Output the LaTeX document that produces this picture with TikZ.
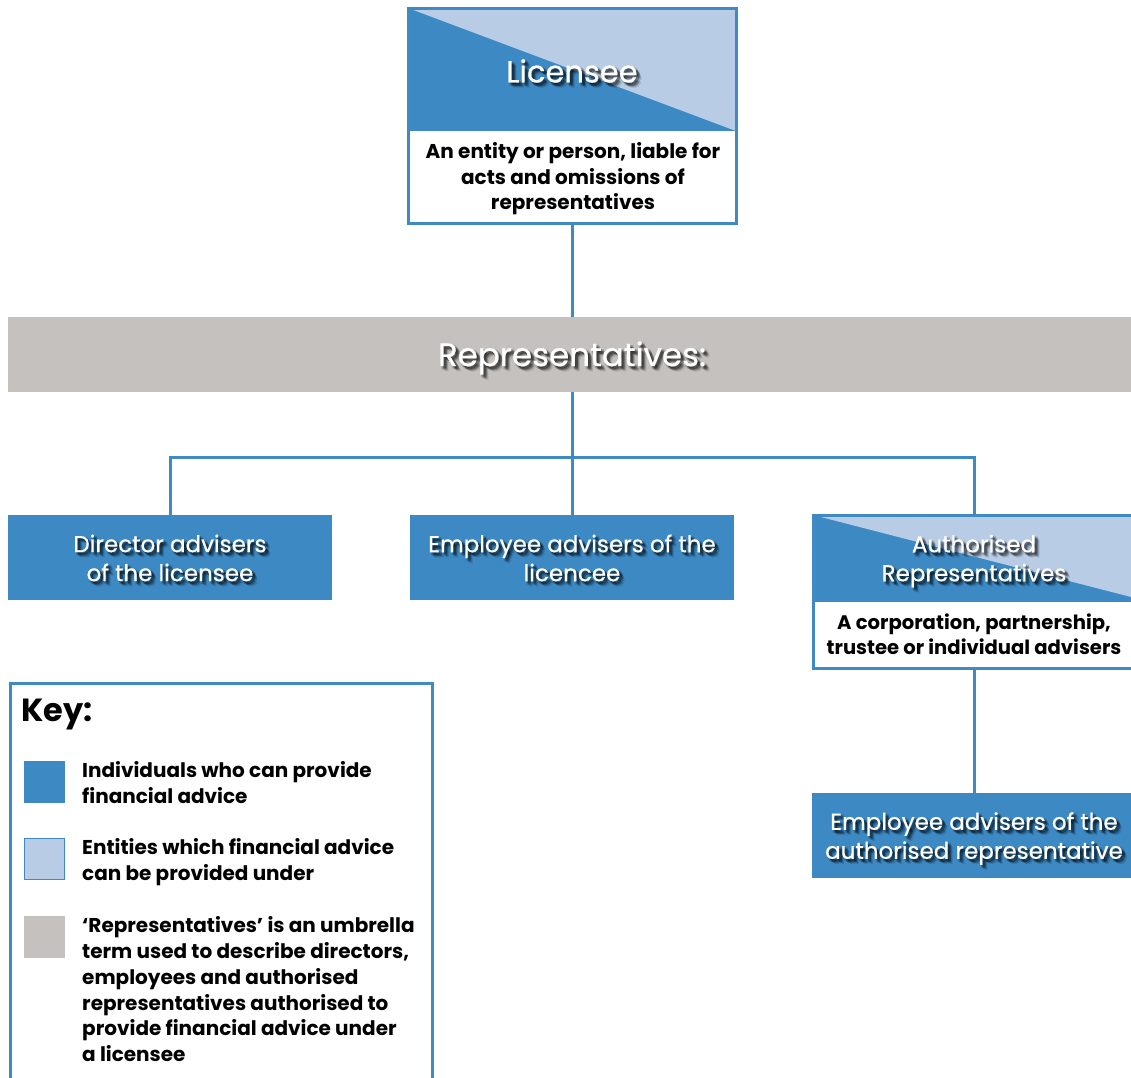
\documentclass[tikz,border=0pt]{standalone}
\usepackage{fontspec}
\setmainfont{Poppins}
\newfontfamily\wfont[FakeBold=0.6]{Poppins}
\definecolor{dblue}{HTML}{3D89C3}
\definecolor{lblue}{HTML}{B8CCE5}
\definecolor{lgray}{HTML}{C5C1BE}
\definecolor{bblue}{HTML}{3F8AC5}
\tikzset{
  conn/.style={draw=bblue, line width=3pt},
  frame/.style={inner sep=0pt, outer sep=0pt, draw=none},
  dtext/.style={align=center, inner sep=0pt, text=black, font=\bfseries\fontsize{20}{25.5}\selectfont},
  ktext/.style={align=left, inner sep=0pt, anchor=north west, text=black, font=\bfseries\fontsize{20}{25.8}\selectfont},
  wbig/.style={align=center, inner sep=0pt, font=\wfont\fontsize{23}{29}\selectfont},
  swatch/.style={inner sep=0pt, outer sep=0pt, minimum width=41pt, minimum height=42pt}
}
\newcommand{\slabel}[5]{%
  \foreach \dx/\dy in {1/1,2/2,3/3,2/3,3/2,4/4,3/4,4/3,5/5,1/3,3/1}{%
    \node[#4, text=black, text opacity=0.1] at ({#2+\dx},{#3+\dy}) {#5};}
  \node[#4, text=white] (#1) at (#2,#3) {#5};}
\begin{document}
\begin{tikzpicture}[x=1pt,y=-1pt]
\useasboundingbox (0,0) rectangle (1131,1077);
\clip (0,0) rectangle (1131,1077);

% Licensee
\node[frame, minimum width=328pt, minimum height=215pt] (lic) at (572,115.5) {};
\fill[dblue] (lic.north west) rectangle (736,131);
\fill[lblue] (lic.north west) -- (lic.north east) -- (736,131) -- cycle;
\draw[bblue, line width=3pt] (lic.north west) rectangle (lic.south east);
\slabel{lictext}{572}{71}{align=center, inner sep=0pt, font=\wfont\fontsize{30.5}{34}\selectfont}{Licensee}
\node[dtext] (licdesc) at (573,179) {An entity or person, liable for\\acts and omissions of\\representatives};

% Representatives bar
\node[frame, fill=lgray, minimum width=1140pt, minimum height=75pt] (rep) at (578,354.5) {};
\slabel{reptext}{572}{358}{align=center, inner sep=0pt, font=\wfont\fontsize{32.5}{38}\selectfont}{Representatives:}

% Level boxes
\node[frame, fill=dblue, minimum width=324pt, minimum height=85pt] (dir) at (170,557.5) {};
\slabel{dirtext}{170}{558}{wbig}{Director advisers\\of the licensee}
\node[frame, fill=dblue, minimum width=324pt, minimum height=85pt] (emp) at (572,557.5) {};
\slabel{emptext}{572}{558}{wbig}{Employee advisers of the\\licencee}

% Authorised representatives
\node[frame, minimum width=322pt, minimum height=153pt] (ar) at (974,591.5) {};
\fill[dblue] (ar.north west) rectangle (1135,602);
\fill[lblue] (ar.north west) -- (1135,515) -- (1135,598) -- cycle;
\draw[bblue, line width=3pt] (ar.north west) rectangle (ar.south east);
\slabel{artext}{974}{561}{wbig}{Authorised\\Representatives}
\node[dtext, font=\bfseries\fontsize{19.6}{25.5}\selectfont] (ardesc) at (974,634) {A corporation, partnership,\\trustee or individual advisers};

\node[frame, fill=dblue, minimum width=324pt, minimum height=85pt] (emp2) at (974,835.5) {};
\slabel{emp2text}{974}{838.5}{wbig}{Employee advisers of the\\authorised representative}

% Connectors
\coordinate (hb) at (572,457);
\draw[conn] (lic.south) -- (lic.south |- rep.north);
\draw[conn] (emp.north |- rep.south) -- (emp.north);
\draw[conn] (dir.north) |- (hb) -| (ar.north);
\draw[conn] (ar.south) -- (emp2.north);

% Key
\node[frame, minimum width=422pt, minimum height=420pt] (key) at (221,893) {};
\draw[bblue, line width=3pt] (key.south west) -- (key.north west) -- (key.north east) -- (key.south east);
\node[anchor=west, inner sep=0pt, font=\bfseries\fontsize{32}{36}\selectfont] (keytitle) at (21,714) {Key:};
\node[swatch, fill=dblue] (s1) at (44.5,782) {};
\node[swatch, fill=lblue, draw=bblue, line width=1.5pt, minimum width=40pt, minimum height=41pt] (s2) at (44.5,859) {};
\node[swatch, fill=lgray] (s3) at (44.5,937) {};
\node[ktext] (k1) at (82,761.5) {Individuals who can provide\\financial advice};
\node[ktext] (k2) at (82,838.5) {Entities which financial advice\\can be provided under};
\node[ktext] (k3) at (82,916.5) {‘Representatives’ is an umbrella\\term used to describe directors,\\employees and authorised\\representatives authorised to\\provide financial advice under\\a licensee};
\end{tikzpicture}
\end{document}
